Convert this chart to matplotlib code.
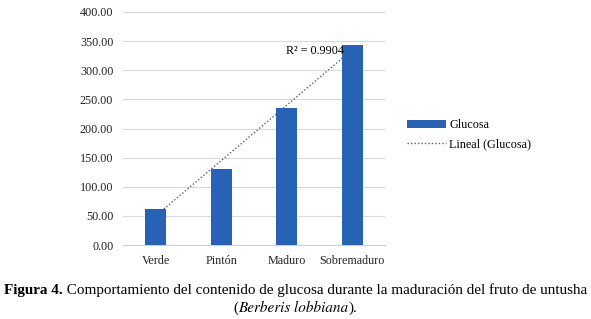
import numpy as np
import matplotlib
matplotlib.use("Agg")
import matplotlib.pyplot as plt
from matplotlib.lines import Line2D
from matplotlib.patches import Patch
from matplotlib import font_manager as fm
from matplotlib.offsetbox import TextArea, HPacker, AnchoredOffsetbox

categories = ["Verde", "Pintón", "Maduro", "Sobremaduro"]
glucosa = [61.5, 130.5, 234.5, 343.5]
yticks = [0, 50, 100, 150, 200, 250, 300, 350, 400]
r2_label = "R² = 0.9904"

plt.rcParams['font.family'] = ['Liberation Serif', 'DejaVu Serif']

fig = plt.figure(figsize=(5.91, 3.19), dpi=100)
ax = fig.add_axes([123/591, 1-245/319, (385-123)/591, (245-12)/319])

x = np.arange(1, len(categories)+1)
bar_color = '#2862b4'
trend_color = '#4f5f80'
ax.bar(x, glucosa, width=0.315, color=bar_color, zorder=3)

coef = np.polyfit(x, glucosa, 1)
xt = np.array([x[0], x[-1]])
ax.plot(xt, np.polyval(coef, xt), linestyle=(0, (1, 1.5)), color=trend_color, lw=1.0, zorder=2)

ax.text(3.87, np.polyval(coef, 3.95)+3, r2_label, ha='right', va='center', fontsize=8.7, zorder=4)

ax.set_xlim(0.5, 4.5)
ax.set_ylim(0, 400)
ax.set_yticks(yticks)
ax.set_yticklabels([f"{v:.2f}" for v in yticks], fontsize=8.7)
ax.set_xticks(x)
ax.set_xticklabels(categories, fontsize=8.7)
ax.tick_params(axis='both', length=0, pad=7, colors='#222222')
ax.grid(axis='y', color='#d9d9d9', lw=0.8, zorder=0)
ax.set_axisbelow(True)
for s in ['top', 'right', 'left']:
    ax.spines[s].set_visible(False)
ax.spines['bottom'].set_color('#d0d0d0')

handles = [Patch(facecolor=bar_color, edgecolor='none', label='Glucosa'),
           Line2D([0], [0], linestyle=(0, (1, 1.5)), color=trend_color, lw=1.0, label='Lineal (Glucosa)')]
fig.legend(handles=handles, loc='center left', bbox_to_anchor=(396/591, 1-135/319),
           frameon=False, fontsize=8.7, handlelength=3.2, handletextpad=0.3, labelspacing=0.6)

cap_size = 10.9
serif = fm.FontProperties(family='Liberation Serif', size=cap_size)
t1 = TextArea("Figura 4.", textprops=dict(fontproperties=fm.FontProperties(family='Liberation Serif', weight='bold', size=cap_size)))
t2 = TextArea(" Comportamiento del contenido de glucosa durante la maduración del fruto de untusha",
              textprops=dict(fontproperties=serif))
box1 = HPacker(children=[t1, t2], align='baseline', pad=0, sep=0)
ab1 = AnchoredOffsetbox(loc='center', child=box1, frameon=False,
                        bbox_to_anchor=(0.5, 1-290/319), bbox_transform=fig.transFigure, pad=0, borderpad=0)
fig.add_artist(ab1)

t3 = TextArea("(", textprops=dict(fontproperties=serif))
t4 = TextArea("Berberis lobbiana", textprops=dict(fontproperties=fm.FontProperties(family='STIXGeneral', style='italic', size=cap_size)))
t5 = TextArea(").", textprops=dict(fontproperties=serif))
box2 = HPacker(children=[t3, t4, t5], align='baseline', pad=0, sep=0)
ab2 = AnchoredOffsetbox(loc='center', child=box2, frameon=False,
                        bbox_to_anchor=(0.5, 1-308/319), bbox_transform=fig.transFigure, pad=0, borderpad=0)
fig.add_artist(ab2)

fig.savefig("out.png", dpi=100)
